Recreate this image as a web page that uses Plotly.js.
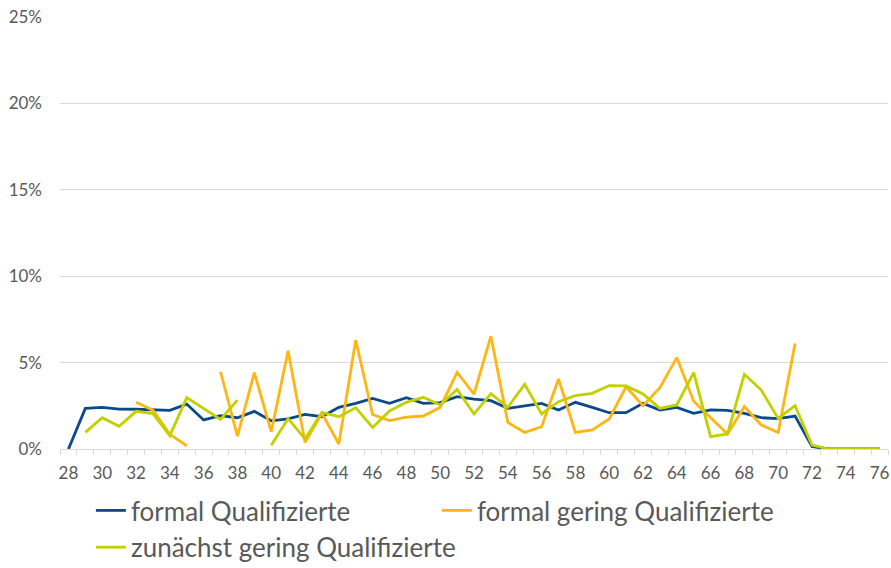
<!DOCTYPE html>
<html>
<head>
<meta charset="utf-8">
<script src="https://cdn.plot.ly/plotly-3.0.1.min.js"></script>
<style>html,body{margin:0;padding:0;background:#fff;}#chart{width:891px;height:568px;}</style>
</head>
<body>
<div id="chart"></div>
<script>
const ages = [28,29,30,31,32,33,34,35,36,37,38,39,40,41,42,43,44,45,46,47,48,49,50,51,52,53,54,55,56,57,58,59,60,61,62,63,64,65,66,67,68,69,70,71,72,73,74,75,76];
const seriesNames = ["formal Qualifizierte", "formal gering Qualifizierte", "zunächst gering Qualifizierte"];
const formalQual = [0,2.35,2.41,2.31,2.3,2.26,2.24,2.6,1.68,1.93,1.81,2.18,1.63,1.74,2.0,1.87,2.41,2.64,2.93,2.64,2.97,2.64,2.68,3.03,2.89,2.8,2.35,2.49,2.64,2.26,2.7,2.41,2.1,2.1,2.64,2.26,2.41,2.06,2.26,2.24,2.06,1.81,1.76,1.91,0.14,0,0,0,0];
const formalGering = [null,null,null,null,2.7,2.25,0.85,0.19,null,4.47,0.75,4.42,1.0,5.69,0.37,2.06,0.29,6.31,2.0,1.64,1.85,1.91,2.41,4.44,3.18,6.53,1.54,0.96,1.29,4.05,0.96,1.1,1.74,3.6,2.51,3.55,5.29,2.76,1.81,0.87,2.45,1.39,0.96,6.11,null,null,null,null,null];
const zunaechstGering = [null,0.96,1.81,1.31,2.18,2.05,0.77,2.97,2.35,1.71,2.83,null,0.21,1.76,0.58,2.12,1.87,2.39,1.25,2.2,2.7,2.99,2.55,3.45,2.03,3.2,2.41,3.74,2.03,2.74,3.09,3.22,3.67,3.65,3.18,2.35,2.55,4.42,0.71,0.87,4.32,3.41,1.77,2.51,0.23,0,0,0,0];
const xTickVals = [28,30,32,34,36,38,40,42,44,46,48,50,52,54,56,58,60,62,64,66,68,70,72,74,76];
const yTickVals = [0,5,10,15,20,25];
const yTickText = ["0%","5%","10%","15%","20%","25%"];

const colors = ["#0a4a8a", "#ffb612", "#c3d000"];
const font = "Lato, 'Open Sans', sans-serif";
const series = [formalQual, formalGering, zunaechstGering];
const traces = series.map((s, i) => ({
  type: "scatter", mode: "lines", x: ages, y: s, name: seriesNames[i],
  line: {color: colors[i], width: 2.8}, connectgaps: false, hoverinfo: "skip"
}));

const layout = {
  width: 891, height: 568,
  margin: {l: 60, r: 3, t: 17, b: 119},
  paper_bgcolor: "#ffffff", plot_bgcolor: "#ffffff",
  font: {family: font, color: "#595959", size: 17},
  showlegend: true,
  legend: {
    orientation: "h", xref: "container", yref: "container",
    x: 0.102, y: 1 - 487/568, xanchor: "left", yanchor: "top",
    font: {family: font, size: 26, color: "#595959"},
    entrywidth: 301, entrywidthmode: "pixels", itemwidth: 30,
    bgcolor: "rgba(0,0,0,0)"
  },
  xaxis: {
    range: [27.5, 76.5], tickmode: "array", tickvals: xTickVals,
    ticks: "", showgrid: false, zeroline: false,
    showline: true, linecolor: "#d9d9d9", linewidth: 1,
    ticklabelstandoff: 9,
    tickfont: {family: font, size: 17, color: "#595959"},
    minor: {tick0: 27.5, dtick: 1, ticks: "outside", ticklen: 5, tickcolor: "#d9d9d9", tickwidth: 1, showgrid: false}
  },
  yaxis: {
    range: [0, 25], tickmode: "array", tickvals: yTickVals, ticktext: yTickText,
    ticks: "", showgrid: true, gridcolor: "#d9d9d9", gridwidth: 1,
    zeroline: false, showline: false, ticklabelstandoff: 17,
    tickfont: {family: font, size: 17, color: "#595959"}
  }
};
Plotly.newPlot("chart", traces, layout, {displayModeBar: false, staticPlot: true});
</script>
</body>
</html>
